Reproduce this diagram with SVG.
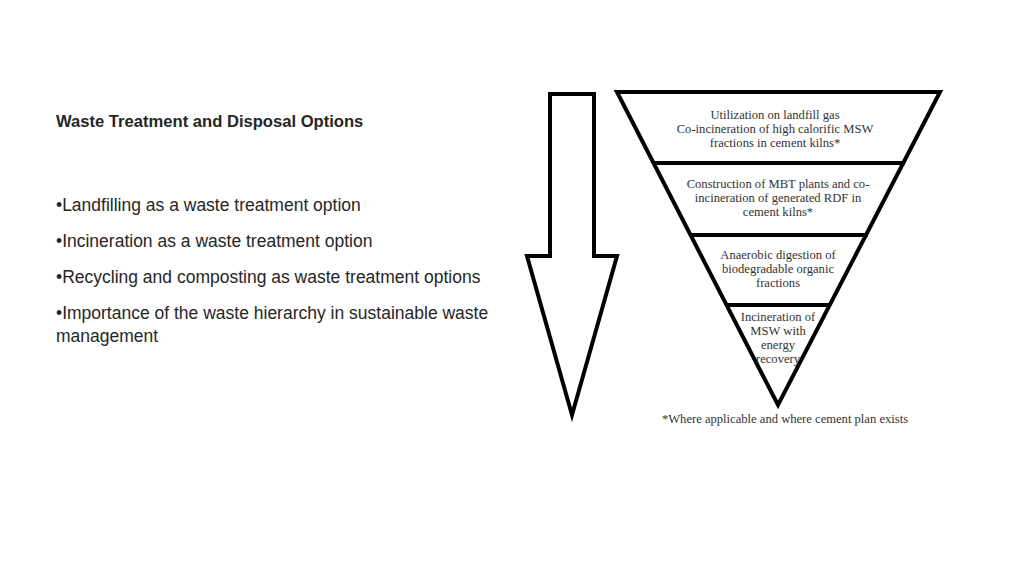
<svg xmlns="http://www.w3.org/2000/svg" width="1024" height="576" viewBox="0 0 1024 576">
<style>
.t{font-family:"Liberation Sans",Arial,sans-serif;font-size:17.5px;fill:#262626}
.s{font-family:"Liberation Serif","Times New Roman",serif;font-size:12.6px;fill:#333;text-anchor:middle}
.k{fill:none;stroke:#000;stroke-width:4;stroke-linejoin:miter}
</style>
<rect width="1024" height="576" fill="#fff"/>
<g id="text">
<text class="t" x="56" y="127" font-weight="bold" style="font-size:16.6px">Waste Treatment and Disposal Options</text>
<text class="t" x="56" y="211">•Landfilling as a waste treatment option</text>
<text class="t" x="56" y="247">•Incineration as a waste treatment option</text>
<text class="t" x="56" y="283">•Recycling and composting as waste treatment options</text>
<text class="t" x="56" y="319">•Importance of the waste hierarchy in sustainable waste</text>
<text class="t" x="56" y="342">management</text>
</g>
<g id="arrow"><polygon class="k" points="550,94 594,94 594,256 617,256 572,415 527,256 550,256"/></g>
<g id="pyramid">
<polygon class="k" points="617,92 940,92 778,405"/>
<line class="k" x1="654" y1="163" x2="905" y2="163"/>
<line class="k" x1="692" y1="235" x2="868" y2="235"/>
<line class="k" x1="727" y1="305" x2="831" y2="305"/>
</g>
<g id="labels">
<text class="s" x="775" y="119">Utilization on landfill gas</text>
<text class="s" x="775" y="133">Co-incineration of high calorific MSW</text>
<text class="s" x="775" y="147">fractions in cement kilns*</text>
<text class="s" x="778" y="188">Construction of MBT plants and co-</text>
<text class="s" x="778" y="202">incineration of generated RDF in</text>
<text class="s" x="778" y="216">cement kilns*</text>
<text class="s" x="778" y="259">Anaerobic digestion of</text>
<text class="s" x="778" y="273">biodegradable organic</text>
<text class="s" x="778" y="287">fractions</text>
<text class="s" x="778" y="321">Incineration of</text>
<text class="s" x="778" y="335">MSW with</text>
<text class="s" x="778" y="349">energy</text>
<text class="s" x="778" y="363">recovery</text>
<text class="s" x="785" y="423">*Where applicable and where cement plan exists</text>
</g>
</svg>
